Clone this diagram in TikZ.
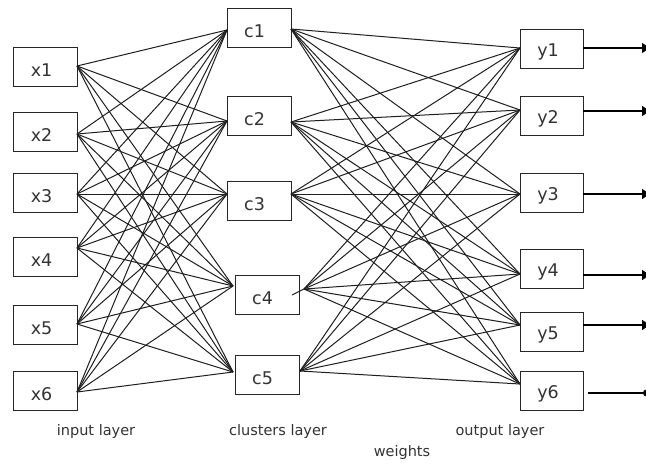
\documentclass[tikz,border=0pt]{standalone}
\usepackage{fontspec}
\setmainfont{DejaVu Sans}
\usetikzlibrary{arrows.meta,calc}
\begin{document}
\begin{tikzpicture}[x=1pt,y=-1pt,
  box/.style={draw=black!85, line width=1.2pt, anchor=north west, minimum width=64pt, minimum height=39pt, inner sep=0pt},
  lbl/.style={font=\fontsize{17.5}{17.5}\selectfont, inner sep=0pt, text=black!80},
  caption/.style={font=\fontsize{14.5}{15}\selectfont, inner sep=0pt, text=black!80},
  wire/.style={draw=black!88, line width=1pt},
  outarrow/.style={draw=black, line width=1.1pt, -{Triangle[length=8pt,width=10pt]}},
  outcirc/.style={draw=black, line width=1.1pt, -{Circle[length=7pt]}}]
\useasboundingbox[fill=white] (0,0) rectangle (646,464);

% input boxes
\foreach \i/\t in {1/47,2/112,3/173,4/237,5/305,6/371}
  \node[box] (x\i) at (13,\t) {};
% cluster boxes
\foreach \i/\l/\t in {1/227/8,2/227/96,3/227/181,4/235/275,5/235/355}
  \node[box] (c\i) at (\l,\t) {};
% output boxes
\foreach \i/\t in {1/29,2/96,3/173,4/249,5/312,6/371}
  \node[box, minimum width=63pt] (y\i) at (520,\t) {};

% labels in boxes
\foreach \i in {1,...,6} {
  \node[lbl] (x\i t) at ($(x\i.center)+(-4,3)$) {x\i};
  \node[lbl] (y\i t) at ($(y\i.center)+(-4,3)$) {y\i};
}
\foreach \i in {1,...,5}
  \node[lbl] (c\i t) at ($(c\i.center)+(-5,3)$) {c\i};

% ports
\foreach \i/\yy in {1/66,2/134,3/194,4/248,5/324,6/392}
  \coordinate (xo\i) at (77,\yy);
\foreach \i/\xx/\yy in {1/227/30,2/227/121,3/227/194,4/233/286,5/233/372}
  \coordinate (ci\i) at (\xx,\yy);
\foreach \i/\xx/\yy in {1/291/29,2/291/122,3/291/194,4/304/289,5/300/371}
  \coordinate (co\i) at (\xx,\yy);
\foreach \i/\yy in {1/48,2/110,3/194,4/274,5/325,6/384}
  \coordinate (yi\i) at (520,\yy);

% wires
\foreach \i in {1,...,6}
  \foreach \j in {1,...,5}
    \draw[wire] (xo\i) -- (ci\j);
\foreach \j in {1,...,5}
  \foreach \k in {1,...,6}
    \draw[wire] (co\j) -- (yi\k);
\coordinate (c4s) at (292,295);
\draw[wire] (c4s) -- (co4);

% outputs
\foreach \k/\yy in {1/48,2/111,3/194,4/275,5/325} {
  \coordinate (ys\k) at (583,\yy);
  \coordinate (ye\k) at (650,\yy);
  \draw[outarrow] (ys\k) -- (ye\k);
}
\coordinate (ys6) at (588,393);
\coordinate (ye6) at (650,393);
\draw[outcirc] (ys6) -- (ye6);

% captions
\node[caption] (inl) at (96,431) {input layer};
\node[caption] (cll) at (278,431) {clusters layer};
\node[caption] (oul) at (500,431) {output layer};
\node[caption] (wgt) at (402,452) {weights};
\end{tikzpicture}
\end{document}
